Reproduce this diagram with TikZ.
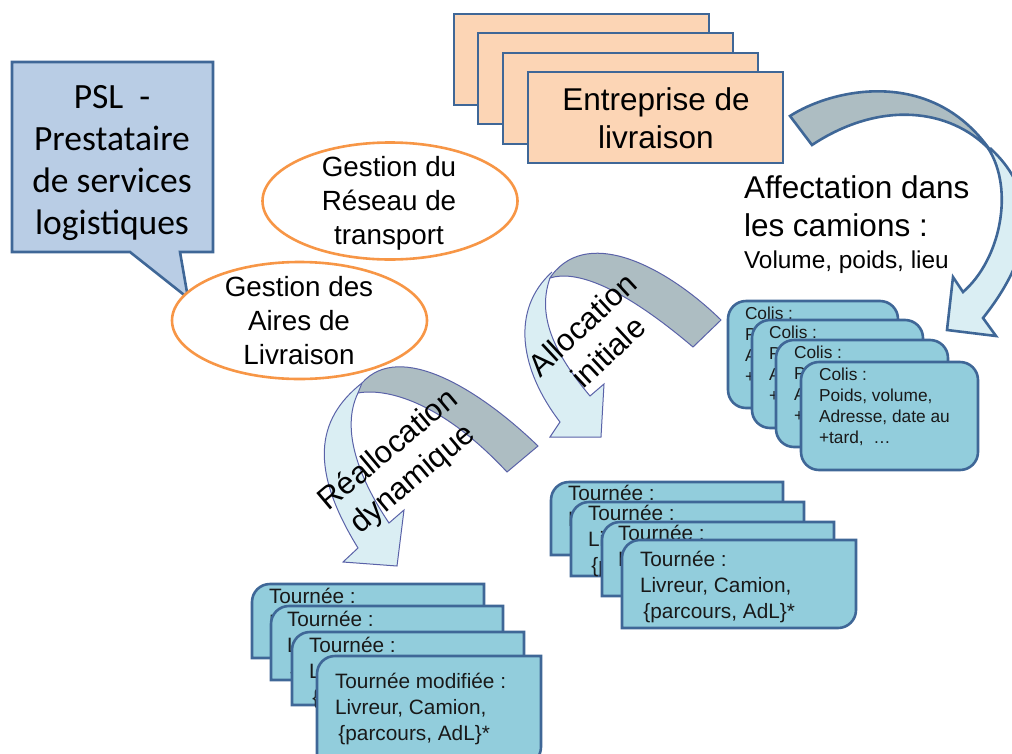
\documentclass[tikz,border=0pt]{standalone}
\usepackage{fontspec}
\setmainfont{Liberation Sans}
\newfontfamily\calib{Carlito}
\usetikzlibrary{shapes.geometric}
\definecolor{steel}{HTML}{3F6797}
\definecolor{boxfill}{HTML}{92CDDC}
\definecolor{peach}{HTML}{FCD5B5}
\definecolor{callfill}{HTML}{B9CDE5}
\definecolor{orangeline}{HTML}{F79646}
\definecolor{arrowgrey}{HTML}{ADBDC2}
\definecolor{arrowlight}{HTML}{DAEEF3}
\definecolor{thinline}{HTML}{5A62A8}
\tikzset{
  base/.style={inner sep=0pt,outer sep=0pt},
  peachbox/.style={draw=steel,line width=2.6pt,fill=peach},
  roundbox/.style={draw=steel,line width=2.6pt,fill=boxfill,rounded corners=18pt},
  tourbox/.style={draw=steel,line width=2.6pt,fill=boxfill},
  oval/.style={ellipse,draw=orangeline,line width=2.6pt,fill=white,inner sep=0pt,outer sep=0pt},
  thickarrowA/.style={draw=steel,line width=2.6pt,fill=arrowlight,line join=miter},
  thickarrowB/.style={draw=steel,line width=2.6pt,fill=arrowgrey,line join=miter},
  thinA/.style={draw=thinline,line width=1pt,fill=arrowlight,line join=miter},
  thinB/.style={draw=thinline,line width=1pt,fill=arrowgrey,line join=miter},
  colistxt/.style={base,anchor=north west,align=left,font=\fontsize{17.3}{21}\selectfont,text=black!90},
  tourtxt/.style={base,anchor=north west,align=left,font=\fontsize{20.8}{26}\selectfont,text=black!90},
  bigtxt/.style={base,align=center,font=\fontsize{31.5}{38}\selectfont},
  ovaltxt/.style={base,align=center,font=\fontsize{27.8}{34}\selectfont},
  arttxt/.style={base,align=center,font=\fontsize{31}{38}\selectfont},
}
\newcommand{\tourshape}[4]{% x1 y1 x2 y2
  \draw[tourbox] (#1+18,#2) -- (#3,#2) -- (#3,#4-18) .. controls (#3,#4-8) and (#3-8,#4) .. (#3-18,#4) -- (#1,#4) -- (#1,#2+18) .. controls (#1,#2+8) and (#1+8,#2) .. (#1+18,#2) -- cycle;
}
\newcommand{\colistext}{Colis :\\Poids, volume,\\Adresse, date au\\+tard,~~…}
\newcommand{\tourtext}{Tournée :\\Livreur, Camion,\\ \,{\{}parcours, AdL{\}}*}
\begin{document}
\begin{tikzpicture}[x=1pt,y=-1pt]
\useasboundingbox (0,0) rectangle (1012,753);
\clip (0,0) rectangle (1012,753);
% peach stack
\draw[peachbox] (454,14) rectangle (709,105);
\draw[peachbox] (478,33) rectangle (733,124);
\draw[peachbox] (503,53) rectangle (758,144);
\draw[peachbox] (528,72) rectangle (783,163);
\node[bigtxt] (ent) at (656,118.5) {Entreprise de\\livraison};
% callout
\draw[draw=steel,line width=2.6pt,fill=callfill,line join=miter] (12,62) -- (213,62) -- (213,252) -- (180,252) -- (188,298) -- (130,252) -- (12,252) -- cycle;
\node[base,align=center,font=\calib\fontsize{35.5}{42}\selectfont] (psl) at (112,163) {PSL~~-\\Prestataire\\de services\\logistiques};
% ovals
\node[oval,minimum width=255pt,minimum height=117pt] (o1) at (390,201) {};
\node[ovaltxt] (o1t) at (389,203) {Gestion du\\Réseau de\\transport};
\node[oval,minimum width=255pt,minimum height=117pt] (o2) at (299.5,320.5) {};
\node[ovaltxt] (o2t) at (299,321) {Gestion des\\Aires de\\Livraison};
% top arrow
\draw[thickarrowA] (990,148) .. controls (1030,185) and (1045,240) .. (983,318) -- (996,336) -- (947,330) -- (953,277) -- (963,292) .. controls (1000,260) and (1015,190) .. (988,148);
\draw[thickarrowB] (790,116) .. controls (830,90) and (930,65) .. (990,150) .. controls (950,108) and (880,100) .. (812,145) -- cycle;
\node[base,anchor=north west,align=left,font=\fontsize{31.5}{38}\selectfont] (aff) at (744,176) {Affectation dans\\les camions :};
\node[base,anchor=north west,font=\fontsize{24.4}{28}\selectfont] (vol) at (744,251) {Volume, poids, lieu};
% colis stack
\draw[roundbox] (728,301) rectangle (898,408);
\node[colistxt] (c1) at (745,307) {\colistext};
\draw[roundbox] (752,320) rectangle (923,428);
\node[colistxt] (c2) at (769,326) {\colistext};
\draw[roundbox] (776,340) rectangle (948,447);
\node[colistxt] (c3) at (794,346) {\colistext};
\draw[roundbox] (801,362) rectangle (978,470);
\node[colistxt] (c4) at (819,368) {\colistext};
% allocation arrow
\draw[thinA] (552,272) .. controls (510,310) and (520,370) .. (560,422) -- (550,437) -- (601,437) -- (604,384) -- (590,396) .. controls (560,360) and (535,320) .. (550,278);
\draw[thinB] (550,278) .. controls (575,270) and (620,285) .. (693,347) -- (721,320) .. controls (670,270) and (590,225) .. (552,275) -- cycle;
\node[arttxt,rotate=43] (a1) at (595,338) {Allocation\\initiale};
% reallocation arrow
\draw[thinA] (362,383) .. controls (315,420) and (310,470) .. (358,548) -- (343,562) -- (397,566) -- (404,510) -- (389,523) .. controls (360,480) and (340,430) .. (358,393);
\draw[thinB] (358,393) .. controls (385,388) and (440,400) .. (507,472) -- (538,446) .. controls (480,390) and (400,340) .. (362,383) -- cycle;
\node[arttxt,rotate=40] (a2) at (401,465) {Réallocation\\dynamique};
% right tournee stack
\tourshape{551}{482}{783}{555}
\node[tourtxt] (t1) at (568,485) {\tourtext};
\tourshape{571}{502}{804}{576}
\node[tourtxt] (t2) at (588,505) {\tourtext};
\tourshape{602}{522}{834}{596}
\node[tourtxt] (t3) at (618,525) {\tourtext};
\tourshape{622}{540}{856}{628}
\node[tourtxt] (t4) at (640,551) {\tourtext};
% left tournee stack
\tourshape{252}{584}{484}{658}
\node[tourtxt] (t5) at (269,588) {\tourtext};
\tourshape{271}{606}{503}{680}
\node[tourtxt] (t6) at (287,611) {\tourtext};
\tourshape{292}{632}{524}{705}
\node[tourtxt] (t7) at (309,637) {\tourtext};
\tourshape{317}{656}{541}{765}
\node[tourtxt] (t8) at (335,673) {Tournée modifiée :\\Livreur, Camion,\\ \,{\{}parcours, AdL{\}}*};
\end{tikzpicture}
\end{document}
